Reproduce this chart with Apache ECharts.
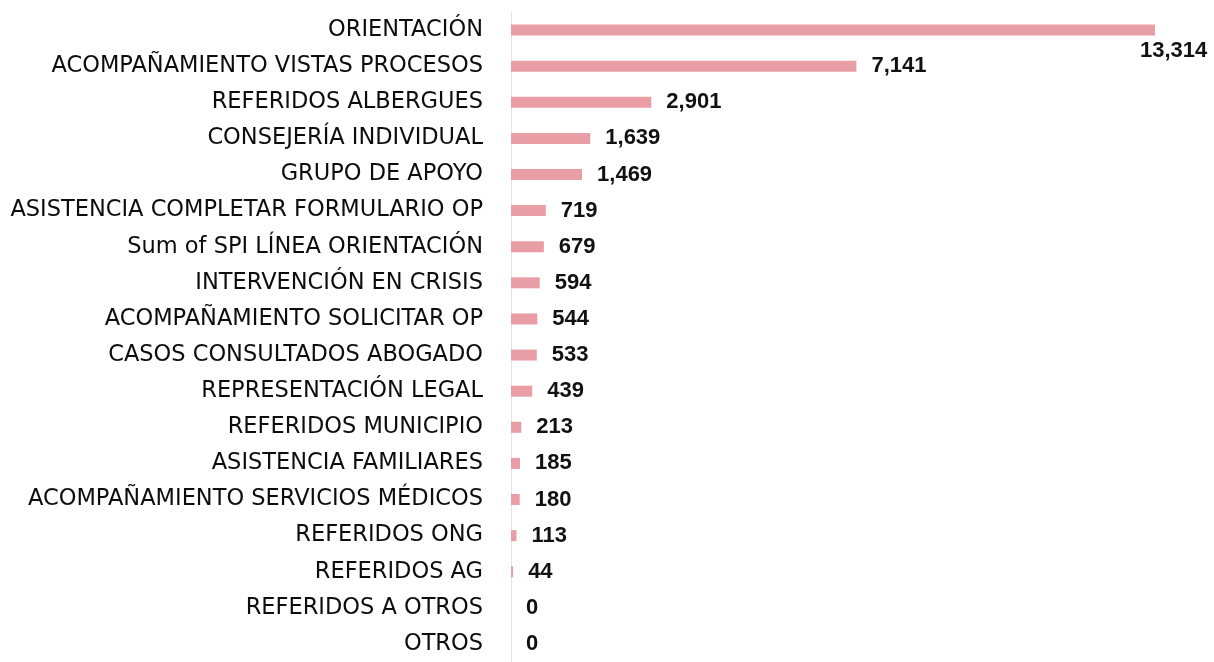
<!DOCTYPE html>
<html>
<head>
<meta charset="utf-8">
<script src="https://cdn.jsdelivr.net/npm/echarts@6/dist/echarts.min.js"></script>
<style>
  html, body { margin: 0; padding: 0; background: #ffffff; }
  #chart { width: 1214px; height: 662px; }
</style>
</head>
<body>
<div id="chart"></div>
<script>
// Service categories, listed top to bottom
const categories = [
  'ORIENTACIÓN',
  'ACOMPAÑAMIENTO VISTAS PROCESOS',
  'REFERIDOS ALBERGUES',
  'CONSEJERÍA INDIVIDUAL',
  'GRUPO DE APOYO',
  'ASISTENCIA COMPLETAR FORMULARIO OP',
  'Sum of SPI LÍNEA ORIENTACIÓN',
  'INTERVENCIÓN EN CRISIS',
  'ACOMPAÑAMIENTO SOLICITAR OP',
  'CASOS CONSULTADOS ABOGADO',
  'REPRESENTACIÓN LEGAL',
  'REFERIDOS MUNICIPIO',
  'ASISTENCIA FAMILIARES',
  'ACOMPAÑAMIENTO SERVICIOS MÉDICOS',
  'REFERIDOS ONG',
  'REFERIDOS AG',
  'REFERIDOS A OTROS',
  'OTROS'
];

// Number of services per category
const values = [13314, 7141, 2901, 1639, 1469, 719, 679, 594, 544, 533, 439, 213, 185, 180, 113, 44, 0, 0];

const fmt = v => v.toLocaleString('en-US');

const seriesData = values.map((v, i) => {
  const item = { value: v };
  if (i === 0) {
    // the longest bar's label sits just under its end
    item.label = { offset: [-30, 21] };
  }
  return item;
});

const chart = echarts.init(document.getElementById('chart'));
chart.setOption({
  animation: false,
  grid: { left: 511, width: 644, top: 12, height: 657 },
  xAxis: {
    type: 'value',
    min: 0,
    max: 13314,
    show: false,
    splitLine: { show: false }
  },
  yAxis: {
    type: 'category',
    inverse: true,
    data: categories,
    axisLine: { show: true, lineStyle: { color: '#e4e4e4', width: 1 } },
    axisTick: { show: false },
    axisLabel: {
      margin: 28,
      color: '#0d0d0d',
      fontFamily: 'DejaVu Sans',
      fontWeight: 'normal',
      fontSize: 22.5
    }
  },
  series: [{
    type: 'bar',
    data: seriesData,
    barWidth: 11,
    itemStyle: { color: '#e99ea6' },
    label: {
      show: true,
      position: 'right',
      distance: 15,
      color: '#111',
      fontFamily: 'Liberation Sans',
      fontWeight: 'bold',
      fontSize: 22,
      formatter: p => fmt(p.value)
    }
  }]
});
</script>
</body>
</html>
